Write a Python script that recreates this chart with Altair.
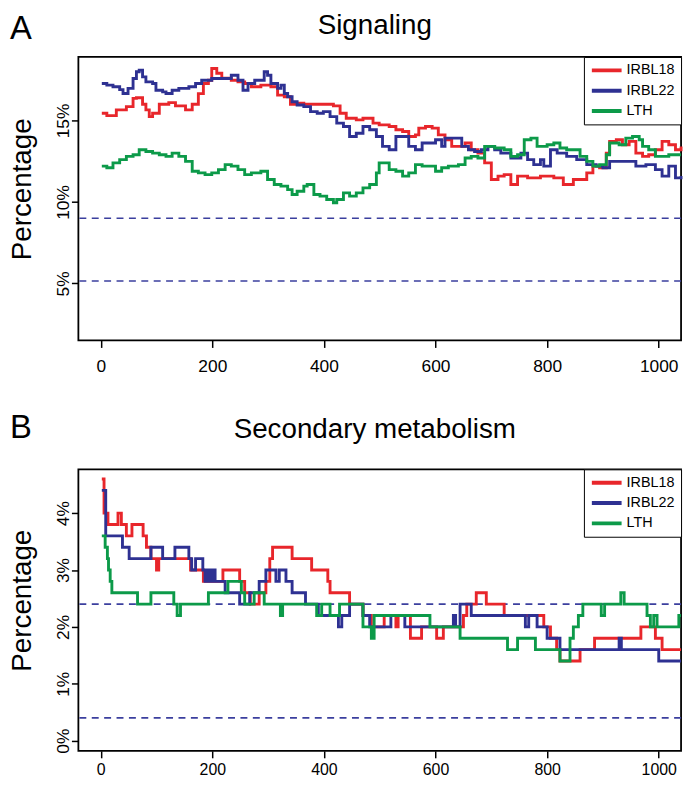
import altair as alt
import pandas as pd

series_names = ["IRBL18", "IRBL22", "LTH"]
series_colors = ["#E8262B", "#2E3192", "#0C9A49"]
x_ticks = [0, 200, 400, 600, 800, 1000]

# ---- Panel A: Signaling (percent) ----
sig_irbl18 = [(2,15.45),(11,15.3),(28,15.65),(46,15.85),(58,16.36),(64,16.4),(75,16.0),(81,15.65),(87,15.24),(93,15.45),
              (105,16.0),(122,16.1),(134,15.9),(152,15.65),(164,16.0),(175,16.65),(184,17.27),(193,17.47),(199,18.19),(208,17.9),
              (217,17.6),(234,17.47),(246,17.37),(258,17.27),(270,17.07),(287,17.17),(305,17.07),(317,16.56),(329,16.46),(340,16.0),
              (352,16.06),(364,16.0),(411,16.0),(417,15.9),(429,15.45),(440,15.14),(458,15.04),(470,15.14),(482,15.14),(488,14.84),
              (499,14.73),(517,14.63),(529,14.43),(541,14.33),(552,14.02),(564,14.12),(570,14.53),(582,14.63),(594,14.53),(605,14.12),
              (617,13.82),(629,13.41),(641,13.41),(653,13.62),(664,13.21),(676,13.0),(688,12.4),(700,11.38),(712,11.59),(723,11.68),
              (735,11.07),(747,11.59),(765,11.48),(788,11.59),(812,11.48),(829,11.07),(847,11.38),(865,11.38),(871,11.79),(882,12.2),
              (894,12.1),(906,13.0),(912,13.72),(924,13.82),(935,13.51),(947,13.72),(959,13.0),(971,12.8),(982,12.9),(994,13.21),
              (1006,13.72),(1018,13.51),(1030,13.21),(1040,13.41)]
sig_irbl22 = [(2,17.27),(11,17.17),(22,17.07),(34,16.9),(40,16.66),(49,16.97),(58,17.58),(64,17.99),(69,18.09),(75,17.68),
              (81,17.37),(93,17.27),(99,16.86),(111,16.76),(117,16.66),(128,16.86),(140,16.97),(158,17.07),(170,17.27),(181,17.47),
              (199,17.58),(223,17.58),(234,17.78),(246,17.47),(255,16.86),(264,17.27),(276,17.47),(287,17.47),(293,17.99),(299,17.78),
              (305,17.27),(317,16.97),(323,17.17),(329,16.66),(335,16.46),(343,16.15),(352,15.95),(364,15.85),(376,15.55),(388,15.45),
              (399,15.55),(411,15.24),(423,14.84),(435,14.63),(446,14.02),(458,14.22),(470,14.63),(482,14.43),(494,14.02),(505,13.41),
              (517,13.21),(529,14.02),(541,14.02),(552,13.41),(564,13.21),(576,13.62),(600,13.82),(611,13.41),(617,13.92),(635,13.92),
              (647,13.41),(659,13.21),(670,13.1),(682,13.21),(694,13.41),(706,13.21),(717,13.0),(735,12.7),(753,13.0),(765,12.6),
              (776,12.29),(788,12.6),(794,12.2),(806,13.21),(818,13.0),(835,12.8),(853,12.6),(871,12.29),(888,12.2),(900,12.1),
              (912,12.49),(941,12.49),(959,12.2),(977,12.29),(994,11.99),(1006,11.59),(1018,12.2),(1030,11.48),(1040,11.59)]
sig_lth = [(2,12.2),(11,12.1),(22,12.4),(34,12.6),(46,12.8),(58,12.9),(69,13.21),(81,13.1),(93,13.0),(105,12.9),
           (117,12.8),(128,13.0),(140,12.8),(152,12.49),(164,11.89),(175,11.79),(187,11.68),(199,11.79),(211,11.99),(223,12.29),
           (234,12.2),(246,11.99),(258,11.68),(270,11.79),(287,11.89),(299,11.38),(311,11.07),(323,10.97),(335,10.76),(343,10.46),
           (352,10.66),(364,10.97),(370,11.07),(382,10.46),(393,10.36),(405,10.15),(417,9.95),(423,10.15),(435,10.56),(446,10.36),
           (458,10.56),(470,10.87),(482,11.07),(494,11.79),(499,12.4),(511,12.4),(517,11.99),(529,11.89),(541,11.59),(552,11.79),
           (564,12.29),(576,12.2),(588,12.2),(600,11.89),(611,12.1),(623,12.2),(641,12.29),(653,12.7),(664,12.8),(676,12.7),
           (688,13.41),(706,13.31),(723,13.21),(735,12.8),(747,12.9),(759,13.82),(771,13.92),(782,13.41),(800,13.51),(812,13.62),
           (823,13.31),(835,13.21),(847,13.21),(859,12.8),(871,12.49),(882,12.2),(894,12.29),(906,12.9),(912,13.62),(929,13.51),
           (941,13.92),(953,14.02),(965,13.82),(971,13.41),(982,13.21),(994,12.8),(1006,12.8),(1018,12.9),(1040,12.9)]
sig_thresholds = [9.0, 5.15]
sig_y_ticks = [5, 10, 15]
sig_y_domain = [1.5, 18.9]

# ---- Panel B: Secondary metabolism (percent) ----
sec_irbl18 = [(2,4.6),(6,4.0),(13,3.8),(31,4.0),(37,3.8),(46,3.6),(56,3.8),(76,3.6),(82,3.4),(90,3.2),(100,3.0),(104,3.2),
              (161,3.0),(184,2.8),(219,3.0),(249,2.8),(258,2.6),(268,2.4),(284,2.6),(296,2.8),(303,3.2),(308,3.4),(343,3.2),
              (378,3.0),(407,2.8),(411,2.6),(446,2.4),(470,2.2),(485,2.0),(508,2.2),(529,2.0),(533,2.2),(555,1.8),(575,2.0),
              (602,1.8),(614,2.0),(650,2.2),(656,2.4),(673,2.6),(691,2.4),(723,2.2),(794,2.0),(806,1.8),(817,1.6),(823,1.4),
              (859,1.6),(885,1.8),(968,2.0),(994,1.8),(1006,1.6),(1040,1.6)]
sec_irbl22 = [(2,4.4),(9,3.6),(39,3.4),(51,3.2),(90,3.4),(111,3.2),(133,3.4),(158,3.2),(163,3.0),(170,3.2),(183,3.0),
              (187,2.8),(192,3.0),(197,2.8),(201,3.0),(205,2.8),(223,2.6),(249,2.4),(267,2.6),(284,2.8),(296,3.0),(314,2.8),
              (320,3.0),(332,2.8),(343,2.6),(367,2.4),(390,2.2),(426,2.0),(432,2.2),(446,2.4),(470,2.2),(482,2.0),(520,2.2),
              (545,2.0),(632,2.2),(636,2.0),(644,2.4),(664,2.2),(761,2.0),(767,2.2),(782,2.0),(800,1.8),(823,1.6),(929,1.8),
              (933,1.6),(1000,1.4),(1040,1.4)]
sec_lth = [(2,3.6),(8,3.4),(12,3.2),(14,3.0),(17,2.8),(20,2.6),(66,2.4),(90,2.6),(131,2.4),(137,2.2),(143,2.4),(193,2.6),
           (228,2.8),(252,2.6),(258,2.4),(275,2.6),(293,2.4),(322,2.2),(326,2.4),(387,2.2),(396,2.4),(411,2.2),(428,2.4),
           (470,2.0),(485,1.8),(490,2.2),(590,2.0),(644,1.8),(729,1.6),(747,1.8),(779,1.6),(823,1.4),(841,1.8),(847,2.0),
           (856,2.2),(864,2.4),(897,2.2),(903,2.4),(932,2.6),(938,2.4),(979,2.2),(985,2.0),(991,2.2),(997,2.0),(1036,2.2),(1040,2.2)]
sec_thresholds = [2.4, 0.4]
sec_y_ticks = [0, 1, 2, 3, 4]
sec_y_domain = [-0.18, 4.77]

FONT = "Liberation Sans"
PLOT_W = 608


def panel(series, thresholds, ydom, yticks, title, letter, title_y, letter_y, h,
          xlab_pad, xlab_size):
    df = pd.concat([pd.DataFrame(s, columns=["x", "pct"]).assign(line=n)
                    for n, s in zip(series_names, series)], ignore_index=True)
    xenc = alt.X("x:Q", scale=alt.Scale(domain=[-40, 1040], nice=False, zero=False),
                 axis=alt.Axis(values=x_ticks, format="d", title=None, domain=False, grid=False,
                               tickSize=7, tickWidth=1.5, tickColor="black",
                               labelFontSize=xlab_size, labelFont=FONT, labelColor="black",
                               labelPadding=xlab_pad, labelFlush=False, labelOverlap=False))
    yscale = alt.Scale(domain=ydom, nice=False, zero=False)
    yenc = alt.Y("pct:Q", scale=yscale,
                 axis=alt.Axis(values=yticks, labelExpr="datum.value + '%'", title="Percentage",
                               domain=False, grid=False, tickSize=7, tickWidth=1.5, tickColor="black",
                               labelFontSize=17.5, labelFont=FONT, labelColor="black",
                               labelAngle=-90, labelAlign="center", labelBaseline="alphabetic",
                               labelPadding=3, labelFlush=False, labelOverlap=False,
                               titleFontSize=28, titleFont=FONT, titleFontWeight="normal",
                               titleColor="black", titleAngle=270, titleX=-56, titleY=h / 2 - 10,
                               titleAlign="center", titleBaseline="middle"))
    rules = alt.Chart(pd.DataFrame({"pct": thresholds})).mark_rule(
        strokeDash=[7, 5.5], strokeWidth=1.6, color="#3B3F9E").encode(y=alt.Y("pct:Q", scale=yscale))
    lines = alt.Chart(df).mark_line(interpolate="step-after", strokeWidth=2.9).encode(
        x=xenc, y=yenc,
        color=alt.Color("line:N", scale=alt.Scale(domain=series_names, range=series_colors),
                        legend=alt.Legend(title=None, orient="top-right", offset=0,
                                          strokeColor="black", fillColor="white", padding=6,
                                          cornerRadius=0, symbolType="stroke", symbolStrokeWidth=4,
                                          symbolSize=900, clipHeight=15, labelFontSize=14.5,
                                          labelFont=FONT, labelColor="black", rowPadding=4.5,
                                          labelOffset=3)),
        order=alt.Order("x:Q"))
    labels = alt.Chart(pd.DataFrame({"t": [letter]})).mark_text(
        align="left", baseline="alphabetic", fontSize=33, font=FONT, color="black").encode(
        text="t:N", x=alt.value(-69), y=alt.value(letter_y))
    title_mark = alt.Chart(pd.DataFrame({"t": [title]})).mark_text(
        align="center", baseline="alphabetic", fontSize=28, font=FONT, color="black").encode(
        text="t:N", x=alt.value(299), y=alt.value(title_y))
    return alt.layer(rules, lines, labels, title_mark).properties(width=PLOT_W, height=h)


pa = panel([sig_irbl18, sig_irbl22, sig_lth], sig_thresholds, sig_y_domain, sig_y_ticks,
           "Signaling", "A", -23, -18, 286, 10, 17.5)
pb = panel([sec_irbl18, sec_irbl22, sec_lth], sec_thresholds, sec_y_domain, sec_y_ticks,
           "Secondary metabolism", "B", -32, -32, 284, 4, 16)

chart = alt.vconcat(pa, pb, spacing=35).resolve_scale(
    y="independent", color="independent").resolve_legend(color="independent").properties(
    padding=0).configure_view(stroke="black", strokeWidth=1.8)

chart.save("out.html", embed_options={"renderer": "svg", "actions": False})
